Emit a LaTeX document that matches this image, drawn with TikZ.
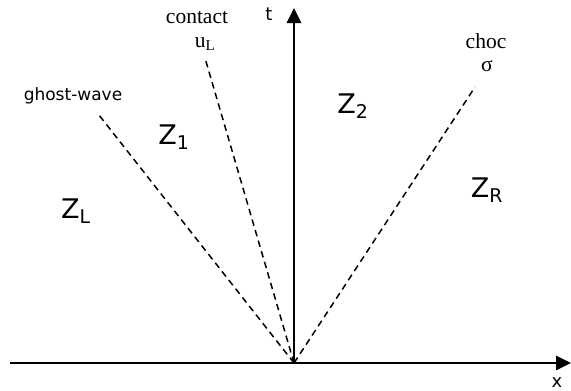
\documentclass[tikz,border=0pt]{standalone}
\usepackage{fontspec}
\setmainfont{DejaVu Sans}
\newfontfamily\serif{Liberation Serif}
\usetikzlibrary{arrows.meta}

\begin{document}
\begin{tikzpicture}[x=1pt, y=-1pt,
		ax/.style = {line width=2.7pt, -{Triangle[length=15pt, width=14pt]}},
		wv/.style = {line width=1.5pt, dash pattern=on 6.5pt off 4.5pt},
		zone/.style = {font=\fontsize{27}{30}\selectfont, inner sep=0pt},
		lab/.style = {font=\fontsize{17}{19}\selectfont, inner sep=0pt},
		ser/.style = {font=\serif\fontsize{21.5}{24}\selectfont, inner sep=0pt}
		]
		\useasboundingbox (0,0) rectangle (571,391);
		
		%Points
		\coordinate	(o)		at	(294, 363);
		\coordinate	(xs)	at	(10, 363);
		\coordinate	(xe)	at	(571, 363);
		\coordinate	(te)	at	(294, 8);
		\coordinate	(gw)	at	(99, 115);
		\coordinate	(cd)	at	(205, 58);
		\coordinate	(sh)	at	(475, 87);
		
		%Nodes
		\node[lab, anchor=base]		(tl)	at	(269, 20)	{\fontsize{18}{19}\selectfont t};
		\node[lab, anchor=base]		(xl)	at	(557, 387)	{\fontsize{18}{19}\selectfont x};
		\node[lab, anchor=base]		(gwl)	at	(73, 100)	{ghost-wave};
		\node[ser, anchor=base]		(cl)	at	(197, 23)	{contact};
		\node[ser, anchor=base]		(ul)	at	(205, 47)	{u\textsubscript{L}};
		\node[ser, anchor=base]		(chl)	at	(486, 48)	{choc};
		\node[ser, anchor=base]		(sl)	at	(487, 71)	{σ};
		\node[zone]	(zl)	at	(76, 211)	{Z\textsubscript{L}};
		\node[zone]	(z1)	at	(174, 137)	{Z\textsubscript{1}};
		\node[zone]	(z2)	at	(353, 106)	{Z\textsubscript{2}};
		\node[zone]	(zr)	at	(487, 190)	{Z\textsubscript{R}};
		
		%Lines
		\draw[ax]	(xs)	--	(xe);
		\draw[ax]	(o)		--	(te);
		\draw[wv]	(o)		--	(gw);
		\draw[wv]	(o)		--	(cd);
		\draw[wv]	(o)		--	(sh);
	\end{tikzpicture}
\end{document}
